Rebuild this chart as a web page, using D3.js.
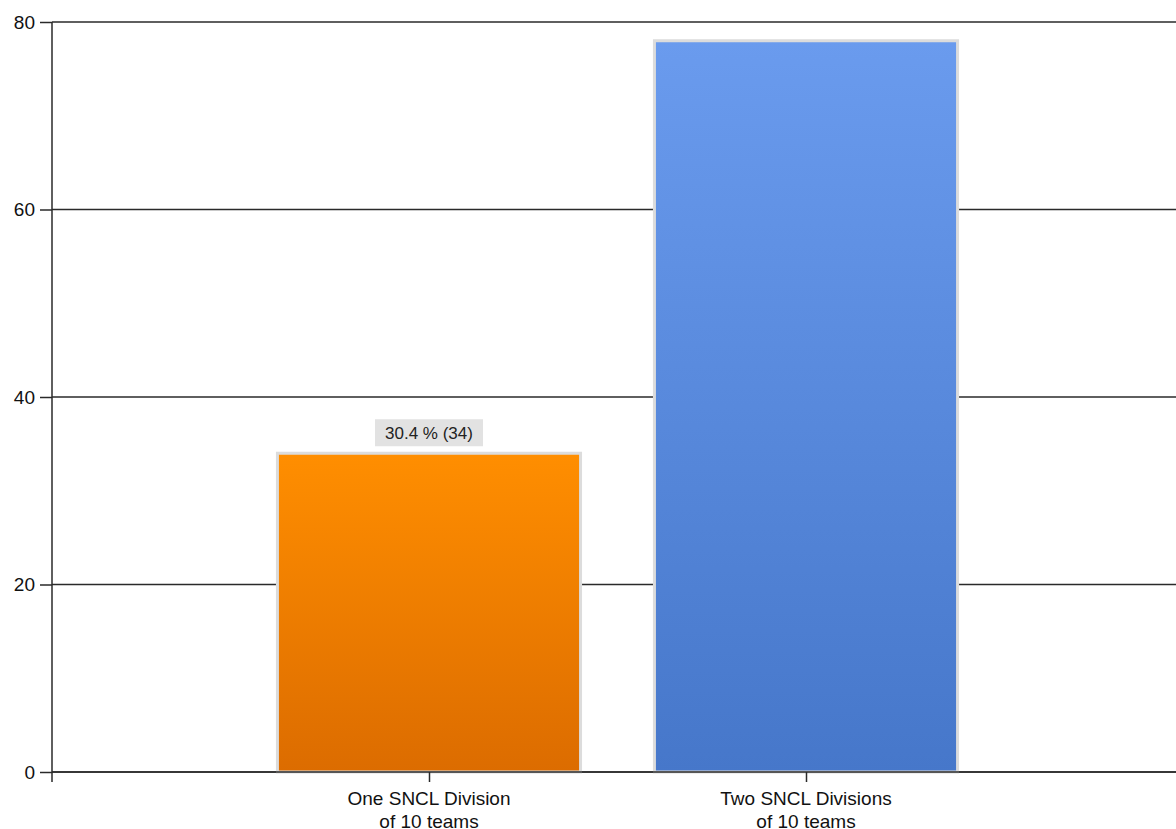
<!DOCTYPE html>
<html><head><meta charset="utf-8">
<script src="https://cdn.jsdelivr.net/npm/d3@7"></script>
<style>body{margin:0;background:#fff;} svg{display:block;}</style>
</head><body>
<svg id="c" width="1176" height="829"></svg>
<script>
const categories = [["One SNCL Division","of 10 teams"],["Two SNCL Divisions","of 10 teams"]];
const values = [34, 78];
const labels = ["30.4 % (34)", null];
const yTicks = [0, 20, 40, 60, 80];
const gradTop = ["#ff8e00", "#6a9bee"];
const gradBottom = ["#dc6c00", "#4677ca"];

(function(){
const svg = d3.select("#c");
const font = "'Liberation Sans', Arial, sans-serif";
const mLeft = 52, mTop = 22, mBottom = 772, rightEnd = 1183;
const keys = categories.map((c,i)=>"c"+i);
const x = d3.scalePoint().domain(keys).range([mLeft, rightEnd]).padding(1);
const y = d3.scaleLinear().domain([0, 80]).range([mBottom, mTop]);
const barW = x.step() * 0.804;

const defs = svg.append("defs");
keys.forEach((k,i)=>{
  const g = defs.append("linearGradient").attr("id","g"+i).attr("x1",0).attr("y1",0).attr("x2",0).attr("y2",1);
  g.append("stop").attr("offset","0%").attr("stop-color",gradTop[i]);
  g.append("stop").attr("offset","100%").attr("stop-color",gradBottom[i]);
});

// y ticks + labels
const yAxis = d3.axisLeft(y).tickValues(yTicks).tickSize(12).tickPadding(5).tickFormat(d3.format("d"));
const ya = svg.append("g").attr("transform",`translate(${mLeft},0)`).call(yAxis);
ya.select(".domain").remove();
ya.selectAll(".tick line").attr("stroke","#2a2a2a").attr("stroke-width",1.5);
ya.selectAll(".tick text").attr("font-family",font).attr("font-size",19).attr("fill","#111");
// gridlines
svg.append("g").selectAll("line").data(yTicks).join("line")
  .attr("x1",mLeft).attr("x2",1176).attr("y1",d=>y(d)).attr("y2",d=>y(d))
  .attr("stroke","#2a2a2a").attr("stroke-width",1.5);
// y axis line
svg.append("line").attr("x1",mLeft).attr("x2",mLeft).attr("y1",mTop).attr("y2",mBottom+10)
  .attr("stroke","#2a2a2a").attr("stroke-width",1.5);

// bars
svg.append("g").selectAll("rect").data(values).join("rect")
  .attr("x",(d,i)=>x(keys[i]) - barW/2)
  .attr("width",barW)
  .attr("y",d=>y(d))
  .attr("height",d=>y(0)-y(d))
  .attr("fill",(d,i)=>`url(#g${i})`)
  .attr("stroke","#dcdcdc").attr("stroke-width",3);

// x axis line over bar borders
svg.append("line").attr("x1",mLeft).attr("x2",1176).attr("y1",y(0)).attr("y2",y(0))
  .attr("stroke","#2a2a2a").attr("stroke-width",1.5);

// x axis ticks
const xAxis = d3.axisBottom(x).tickSize(10).tickFormat("");
const xa = svg.append("g").attr("transform",`translate(0,${mBottom})`).call(xAxis);
xa.select(".domain").remove();
xa.selectAll(".tick line").attr("stroke","#2a2a2a").attr("stroke-width",1.5);
const cl = svg.append("g").selectAll("text").data(categories).join("text")
  .attr("x",(d,i)=>x(keys[i])).attr("y",805)
  .attr("text-anchor","middle").attr("font-family",font).attr("font-size",19).attr("fill","#111");
cl.each(function(d){
  const t = d3.select(this);
  d.forEach((line,j)=>t.append("tspan").attr("x",t.attr("x")).attr("dy", j===0?0:23).text(line));
});

// data labels
values.forEach((v,i)=>{
  if(!labels[i]) return;
  const cx = x(keys[i]);
  const by = y(v);
  svg.append("rect").attr("x",cx-54).attr("y",by-34).attr("width",108).attr("height",27).attr("fill","#e2e2e2");
  svg.append("text").attr("x",cx).attr("y",by-14).attr("text-anchor","middle")
    .attr("font-family",font).attr("font-size",17).attr("fill","#222").text(labels[i]);
});
})();
</script>
</body></html>
